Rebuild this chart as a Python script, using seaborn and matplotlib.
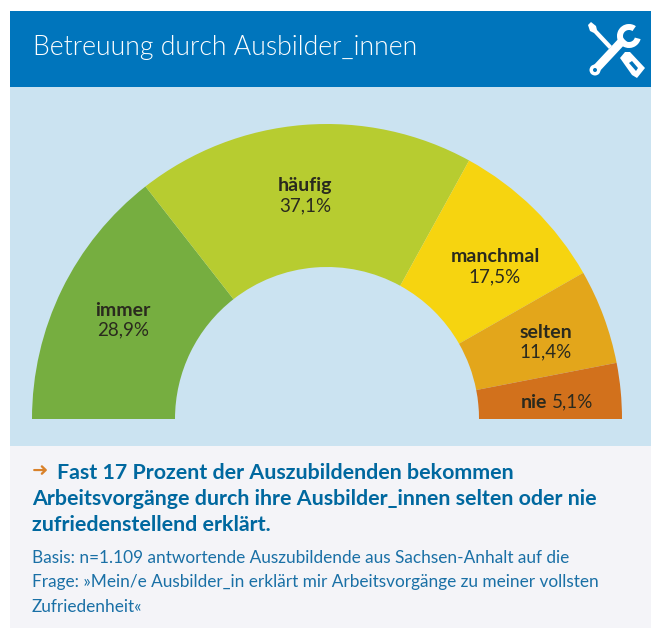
import matplotlib
matplotlib.use('Agg')
import matplotlib.pyplot as plt
from matplotlib.patches import Rectangle, Polygon, Circle, Wedge
import seaborn as sns

categories = ['immer', 'häufig', 'manchmal', 'selten', 'nie']
# wedge sizes as drawn in the picture (selten/nie are drawn a little off their labels)
values = [28.9, 37.1, 17.5, 10.4, 6.1]
value_labels = ['28,9%', '37,1%', '17,5%', '11,4%', '5,1%']
colors = ['#76AE40', '#B7CC30', '#F6D410', '#E3A61B', '#D2711C']

title = 'Betreuung durch Ausbilder_innen'
head_lines = ['Fast 17 Prozent der Auszubildenden bekommen',
              'Arbeitsvorgänge durch ihre Ausbilder_innen selten oder nie',
              'zufriedenstellend erklärt.']
basis_lines = ['Basis: n=1.109 antwortende Auszubildende aus Sachsen-Anhalt auf die',
               'Frage: »Mein/e Ausbilder_in erklärt mir Arbeitsvorgänge zu meiner vollsten',
               'Zufriedenheit«']

sns.set_theme(style='white')
plt.rcParams['font.family'] = ['Lato', 'DejaVu Sans']

fig = plt.figure(figsize=(6.51, 6.28), dpi=100, facecolor='white')
ax = fig.add_axes([0, 0, 1, 1])

# half ring: the hidden wedge takes the lower half of the pie
palette = sns.color_palette(colors)
ax.pie(values + [sum(values)], colors=palette + ['none'], startangle=180, counterclock=True,
       center=(327, 419), radius=295, wedgeprops={'width': 143, 'linewidth': 0})
ax.set_xlim(0, 651)
ax.set_ylim(628, 0)
ax.set_aspect('auto')
ax.axis('off')

# panels
ax.add_patch(Rectangle((10, 11), 641, 76, color='#0075BC', lw=0, zorder=-3))
ax.add_patch(Rectangle((10, 87), 641, 359, color='#CBE3F1', lw=0, zorder=-3))
ax.add_patch(Rectangle((10, 446), 641, 182, color='#F4F4F8', lw=0, zorder=-3))

ax.text(33, 47, title, color='white', fontsize=19.2, fontweight=300, va='center', ha='left')

# wedge labels
dark = '#2A2A1E'
label_xy = [(123, 310), (305, 186), (495, 257), (546, 332)]
for name, val, (x, y) in zip(categories[:4], value_labels[:4], label_xy):
    ax.text(x, y, name, ha='center', va='center', fontsize=14, fontweight='bold', color=dark)
    ax.text(x, y + 20, val, ha='center', va='center', fontsize=13.5, color=dark)
ax.text(547, 402, categories[4], ha='right', va='center', fontsize=14, fontweight='bold', color=dark)
ax.text(552, 402, value_labels[4], ha='left', va='center', fontsize=13.5, color=dark)

# text block
blue = '#00689F'
ax.text(32, 471, '➜', family='DejaVu Sans', color='#D9822B', fontsize=14, fontweight='bold', va='center', ha='left')
for line, x, y in zip(head_lines, [57, 32, 32], [473, 499, 525]):
    ax.text(x, y, line, color=blue, fontsize=15.4, fontweight='bold', va='center', ha='left')
for line, y in zip(basis_lines, [558, 582, 607]):
    ax.text(32, y, line, color='#1A70A6', fontsize=12.4, va='center', ha='left')

# tools icon
ax.add_patch(Polygon([(588, 25), (591, 22), (596, 26), (597, 30), (612, 46), (609, 49), (594, 33), (590, 31)],
                     color='white', lw=0))
ax.add_patch(Polygon([(592, 67), (621, 36), (627, 42), (598, 73)], color='white', lw=0))
ax.add_patch(Circle((595, 70), 5.5, color='white', lw=0))
ax.add_patch(Circle((595, 70), 2, color='#0075BC', lw=0))
ax.add_patch(Wedge((629, 36), 12, 15, 305, width=6, color='white', lw=0))
ax.add_patch(Polygon([(620, 58), (625, 52), (630, 52), (645, 68), (637, 78), (632, 75)],
                     color='white', lw=0))
ax.add_patch(Polygon([(629, 63), (632, 61), (638, 68), (636, 71)], color='#0075BC', lw=0))

fig.savefig('out.png', dpi=100)
